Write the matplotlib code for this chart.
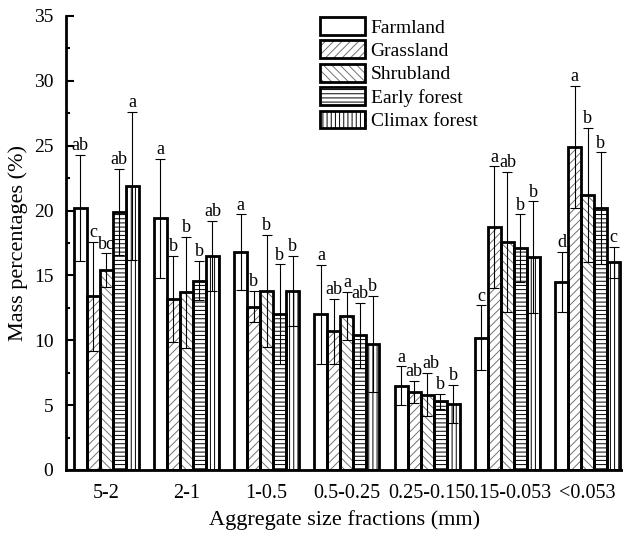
import matplotlib
matplotlib.use("Agg")
import matplotlib.pyplot as plt
import numpy as np
from matplotlib.patches import Patch
from matplotlib.ticker import MultipleLocator

plt.rcParams["font.family"] = ["Liberation Serif", "DejaVu Serif"]
plt.rcParams["hatch.linewidth"] = 0.7

fractions = ["5-2", "2-1", "1-0.5", "0.5-0.25", "0.25-0.15", "0.15-0.053", "<0.053"]
landuse = ["Farmland", "Grassland", "Shrubland", "Early forest", "Climax forest"]

farmland = [20.2, 19.4, 16.8, 12.0, 6.5, 10.2, 14.5]
grassland = [13.4, 13.2, 12.6, 10.7, 6.0, 18.7, 24.9]
shrubland = [15.4, 13.7, 13.8, 11.9, 5.8, 17.6, 21.2]
early_forest = [19.9, 14.6, 12.0, 10.4, 5.3, 17.1, 20.2]
climax_forest = [21.9, 16.5, 13.8, 9.7, 5.1, 16.4, 16.0]

farmland_sd = [4.1, 4.6, 2.9, 3.8, 1.5, 2.5, 2.3]
grassland_sd = [4.2, 3.3, 1.2, 2.5, 0.85, 4.7, 4.7]
shrubland_sd = [1.3, 4.3, 4.35, 1.85, 1.67, 5.4, 5.2]
early_forest_sd = [3.3, 1.5, 3.86, 2.5, 0.57, 2.6, 4.3]
climax_forest_sd = [5.7, 2.7, 2.7, 3.7, 1.46, 4.3, 1.2]

farmland_sig = ["ab", "a", "a", "a", "a", "c", "d"]
grassland_sig = ["c", "b", "b", "ab", "ab", "a", "a"]
shrubland_sig = ["bc", "b", "b", "a", "ab", "ab", "b"]
early_forest_sig = ["ab", "b", "b", "ab", "b", "b", "b"]
climax_forest_sig = ["a", "ab", "b", "b", "b", "b", "c"]

means = [farmland, grassland, shrubland, early_forest, climax_forest]
sds = [farmland_sd, grassland_sd, shrubland_sd, early_forest_sd, climax_forest_sd]
sigs = [farmland_sig, grassland_sig, shrubland_sig, early_forest_sig, climax_forest_sig]

hatches = ["", "////", "\\\\\\\\", "----", "||||"]
hatch_cols = ["black", "0.45", "0.45", "black", "black"]

fig = plt.figure(figsize=(6.23, 5.38), dpi=100)
ax = fig.add_axes([66 / 623, 68 / 538, 1 - 66 / 623, (470 - 16) / 538])

x = np.arange(len(fractions))
w = 0.162
handles = []
for i in range(5):
    pos = x + (i - 2) * w
    ax.bar(pos, means[i], w, color="white", edgecolor=hatch_cols[i],
           hatch=hatches[i], linewidth=0, zorder=1)
    ax.bar(pos, means[i], w, fill=False, edgecolor="black", linewidth=2, zorder=2)
    ax.errorbar(pos, means[i], yerr=sds[i], fmt="none", ecolor="black",
                elinewidth=0.8, capsize=3.5, capthick=0.8, zorder=3)
    for j, (p, m, s, t) in enumerate(zip(pos, means[i], sds[i], sigs[i])):
        # small nudge where two "ab" labels would collide
        dx = 3 if (i == 2 and j == 4) else 0
        ax.annotate(t, (p, m + s), xytext=(dx, 0.5), textcoords="offset points",
                    ha="center", va="bottom", fontsize=13)
    handles.append((Patch(facecolor="white", edgecolor=hatch_cols[i], hatch=hatches[i], lw=0),
                    Patch(fill=False, edgecolor="black", lw=2)))

ax.set_xlim(-0.5, 6.44)
ax.set_ylim(0, 35)
ax.set_xticks(x)
ax.set_xticklabels(fractions)
ax.tick_params(axis="x", length=0, labelsize=14.5, pad=10)
ax.yaxis.set_major_locator(MultipleLocator(5))
ax.yaxis.set_minor_locator(MultipleLocator(2.5))
ax.tick_params(axis="y", which="major", direction="in", length=6, width=1.5,
               labelsize=14, pad=9)
ax.tick_params(axis="y", which="minor", direction="in", length=3, width=1.5)
ax.spines["top"].set_visible(False)
ax.spines["right"].set_visible(False)
ax.spines["left"].set_linewidth(2)
ax.spines["bottom"].set_linewidth(2)

ax.set_xlabel("Aggregate size fractions (mm)", fontsize=16, labelpad=5)
ax.set_ylabel("Mass percentages (%)", fontsize=16, labelpad=4)

fig.legend(handles, landuse, loc="upper left", bbox_to_anchor=(320 / 623, 1 - 17 / 538),
           frameon=False, fontsize=14, handlelength=2.3, handleheight=1.03,
           labelspacing=0.2, handletextpad=0.3, borderpad=0, borderaxespad=0)

fig.savefig("out.png", dpi=100)
